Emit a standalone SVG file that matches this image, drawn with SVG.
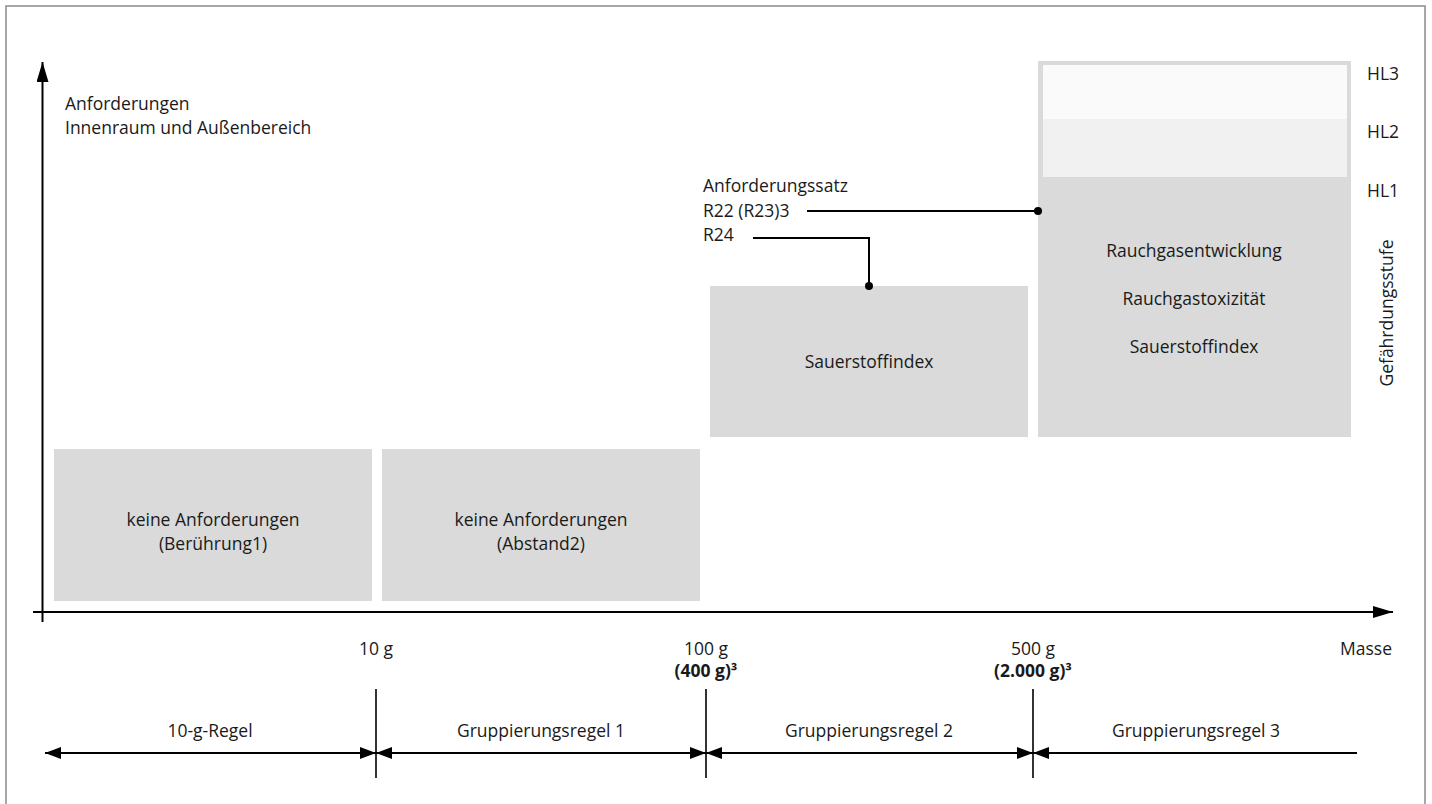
<svg xmlns="http://www.w3.org/2000/svg" width="1432" height="804" viewBox="0 0 1432 804">
<style>
text{font-family:"Open Sans","Liberation Sans",Arial,sans-serif;font-size:17.5px;fill:#1a1a1a}
.c{text-anchor:middle}
.b{font-weight:bold}
.box{fill:#d9dad9}
.ln{stroke:#000;stroke-width:2;fill:none}
.tk{stroke:#000;stroke-width:1.6;fill:none}
</style>
<defs>
<marker id="ah" viewBox="0 0 16 12" refX="16" refY="6" markerWidth="16" markerHeight="12" markerUnits="userSpaceOnUse" orient="auto-start-reverse">
<path d="M0,0 L16,6 L0,12 Z" fill="#000"/>
</marker>
<marker id="axh" viewBox="0 0 20 12" refX="20" refY="6" markerWidth="20" markerHeight="12" markerUnits="userSpaceOnUse" orient="auto">
<path d="M0,0 L20,6 L0,12 Z" fill="#000"/>
</marker>
</defs>
<rect x="0" y="0" width="1432" height="804" fill="#fff"/>
<rect x="6" y="6" width="1419" height="820" fill="none" stroke="#8a8a8a" stroke-width="1.5"/>

<g id="axes">
<line class="ln" x1="42.5" y1="622" x2="42.5" y2="62" marker-end="url(#axh)"/>
<line class="ln" x1="33" y1="612" x2="1393" y2="612" marker-end="url(#axh)"/>
<text x="65" y="110">Anforderungen</text>
<text x="65" y="134">Innenraum und Außenbereich</text>
<text class="c" x="1366" y="655">Masse</text>
</g>

<g id="node-beruehrung">
<rect class="box" x="54" y="449" width="318" height="152"/>
<text class="c" x="213" y="526">keine Anforderungen</text>
<text class="c" x="213" y="550">(Berührung1)</text>
</g>
<g id="node-abstand">
<rect class="box" x="382" y="449" width="318" height="152"/>
<text class="c" x="541" y="526">keine Anforderungen</text>
<text class="c" x="541" y="550">(Abstand2)</text>
</g>
<g id="node-sauerstoff">
<rect class="box" x="710" y="286" width="318" height="151"/>
<text class="c" x="869" y="368">Sauerstoffindex</text>
</g>
<g id="node-hl">
<rect class="box" x="1038" y="61" width="313" height="376"/>
<rect x="1043" y="65" width="304" height="54" fill="#fafafa"/>
<rect x="1043" y="119" width="304" height="58" fill="#f0f1f0"/>
<text class="c" x="1194" y="257">Rauchgasentwicklung</text>
<text class="c" x="1194" y="305">Rauchgastoxizität</text>
<text class="c" x="1194" y="353">Sauerstoffindex</text>
<text x="1367" y="80">HL3</text>
<text x="1367" y="138">HL2</text>
<text x="1367" y="197">HL1</text>
<text class="c" transform="translate(1393,313) rotate(-90)">Gefährdungsstufe</text>
</g>
<g id="node-anforderungssatz">
<text x="703" y="192">Anforderungssatz</text>
<text x="703" y="217">R22 (R23)3</text>
<text x="703" y="241">R24</text>
</g>

<g id="connectors">
<polyline class="ln" points="807,211 1038,211"/>
<circle cx="1038" cy="211" r="4" fill="#000"/>
<polyline class="ln" points="753,238 869,238 869,286"/>
<circle cx="869" cy="286" r="4" fill="#000"/>
</g>

<g id="scale">
<text class="c" x="376" y="655">10 g</text>
<text class="c" x="706" y="655">100 g</text>
<text class="c b" x="706" y="677">(400 g)³</text>
<text class="c" x="1033" y="655">500 g</text>
<text class="c b" x="1033" y="677">(2.000 g)³</text>
<line class="tk" x1="376" y1="689" x2="376" y2="778"/>
<line class="tk" x1="706" y1="689" x2="706" y2="778"/>
<line class="tk" x1="1033" y1="689" x2="1033" y2="778"/>
<line class="ln" x1="45" y1="753" x2="376" y2="753" marker-start="url(#ah)" marker-end="url(#ah)"/>
<line class="ln" x1="376" y1="753" x2="706" y2="753" marker-start="url(#ah)" marker-end="url(#ah)"/>
<line class="ln" x1="706" y1="753" x2="1033" y2="753" marker-start="url(#ah)" marker-end="url(#ah)"/>
<line class="ln" x1="1033" y1="753" x2="1357" y2="753" marker-start="url(#ah)"/>
<text class="c" x="210" y="737">10-g-Regel</text>
<text class="c" x="541" y="737">Gruppierungsregel 1</text>
<text class="c" x="869" y="737">Gruppierungsregel 2</text>
<text class="c" x="1196" y="737">Gruppierungsregel 3</text>
</g>
</svg>
